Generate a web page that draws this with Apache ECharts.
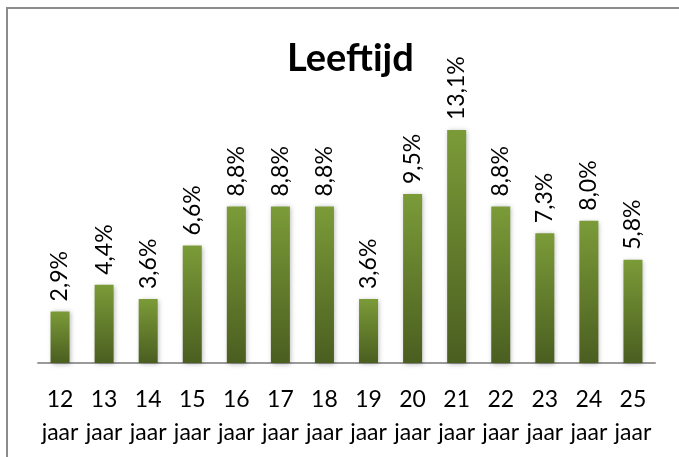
<!DOCTYPE html>
<html>
<head>
<meta charset="utf-8">
<script src="https://cdn.jsdelivr.net/npm/echarts@6/dist/echarts.min.js"></script>
<style>
  html, body { margin: 0; padding: 0; background: #fff; }
  #chart { width: 679px; height: 457px; }
</style>
</head>
<body>
<div id="chart"></div>
<script>
// leeftijden en percentages
const categories = ['12', '13', '14', '15', '16', '17', '18', '19', '20', '21', '22', '23', '24', '25'];
const percentages = [2.9, 4.4, 3.6, 6.6, 8.8, 8.8, 8.8, 3.6, 9.5, 13.1, 8.8, 7.3, 8.0, 5.8];

const font = 'Lato, "Open Sans", sans-serif';

let myChart = echarts.init(document.getElementById('chart'), null, { renderer: 'canvas' });

let option = {
  animation: false,
  title: {
    text: 'Leeftijd',
    left: 282,
    top: 35,
    textStyle: {
      fontFamily: font,
      fontWeight: 'bold',
      fontSize: 38,
      color: '#000'
    }
  },
  graphic: [
    {
      type: 'rect',
      shape: { x: 7, y: 8, width: 700, height: 470 },
      style: { fill: 'none', stroke: '#8c8c8c', lineWidth: 2 },
      silent: true
    }
  ],
  grid: {
    left: 38,
    right: 24,
    top: 114,
    bottom: 94
  },
  xAxis: {
    type: 'category',
    data: categories,
    axisLine: { lineStyle: { color: '#9a9a9a', width: 2 } },
    axisTick: { show: false },
    axisLabel: {
      interval: 0,
      margin: 20,
      fontFamily: font,
      fontSize: 23,
      lineHeight: 33,
      color: '#000',
      formatter: function (v) { return v + '\njaar'; }
    }
  },
  yAxis: {
    type: 'value',
    min: 0,
    max: 14,
    show: false
  },
  series: [
    {
      type: 'bar',
      data: percentages,
      barWidth: 19,
      itemStyle: {
        color: new echarts.graphic.LinearGradient(0, 0, 0, 1, [
          { offset: 0, color: '#7b9b38' },
          { offset: 1, color: '#4a5e20' }
        ]),
        shadowColor: 'rgba(0,0,0,0.3)',
        shadowBlur: 5,
        shadowOffsetX: 1,
        shadowOffsetY: 1
      },
      label: {
        show: true,
        position: 'top',
        rotate: 90,
        align: 'left',
        verticalAlign: 'middle',
        distance: 10,
        fontFamily: font,
        fontSize: 23,
        color: '#000',
        formatter: function (p) { return p.value.toFixed(1).replace('.', ',') + '%'; }
      }
    }
  ]
};

myChart.setOption(option);
</script>
</body>
</html>
